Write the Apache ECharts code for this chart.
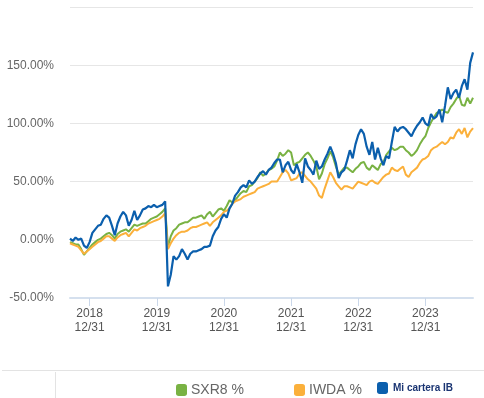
<!DOCTYPE html>
<html>
<head>
<meta charset="utf-8">
<script src="https://cdn.jsdelivr.net/npm/echarts@6/dist/echarts.min.js"></script>
<style>
  html, body { margin: 0; padding: 0; background: #fff; }
  #chart { width: 484px; height: 398px; }
</style>
</head>
<body>
<div id="chart"></div>
<script>
// semi-monthly dates, 2018/09/15 .. 2024/09/15 (15th and month end)
const DATES = [];
for (let y = 2018; y <= 2024; y++) {
  for (let m = 1; m <= 12; m++) {
    const last = new Date(y, m, 0).getDate();
    const mm = String(m).padStart(2, '0');
    [15, last].forEach(function (d) {
      const s = y + '/' + mm + '/' + String(d).padStart(2, '0');
      if (s >= '2018/09/15' && s <= '2024/09/15') DATES.push(s);
    });
  }
}

const SXR8 = [
  -2, -3, -4, -4, -8, -13, -10, -7, -4, -2,
  0, 1, 3, 5, 6, 4, 1, 5, 7, 8,
  9, 7, 10, 13, 12, 13, 14, 14, 16, 18,
  19, 20, 22, 24, 27, -6, 3, 8, 10, 13,
  14, 15, 15, 17, 19, 19, 20, 21, 18, 22,
  24, 20, 23, 26, 27, 25, 29, 34, 32, 34,
  37, 40, 42, 41, 46, 47, 50, 53, 58, 55,
  57, 60, 61, 63, 68, 75, 72, 74, 77, 75,
  64, 66, 67, 70, 73, 75, 72, 68, 63, 52,
  57, 65, 70, 76, 71, 63, 56, 59, 62, 62,
  60, 58, 61, 63, 66, 67, 62, 60, 64, 62,
  60, 65, 67, 73, 76, 79, 77, 78, 80, 80,
  77, 75, 72, 74, 77, 82, 86, 89, 96, 101,
  105, 109, 110, 112, 110, 109, 114, 117, 121, 124,
  116, 115, 122, 117, 122
];

const IWDA = [
  -3, -4, -5, -6, -9, -12, -10, -8, -6, -4,
  -2, -1, 1, 3, 3, 1, -1, 2, 4, 5,
  6, 3, 6, 9, 8, 10, 11, 12, 14, 15,
  16, 17, 18, 20, 23, -8, -3, 1, 4, 6,
  7, 7, 8, 10, 11, 11, 12, 13, 14, 15,
  12, 15, 17, 19, 21, 24, 25, 27, 31, 33,
  34, 35, 37, 38, 39, 40, 41, 44, 45, 46,
  47, 48, 50, 50, 50, 54, 58, 60, 57, 51,
  52, 53, 57, 58, 55, 52, 50, 47, 44, 38,
  36, 44, 51, 58, 54, 49, 46, 43, 46, 46,
  45, 44, 47, 50, 49, 48, 47, 50, 51, 49,
  48, 51, 54, 56, 57, 62, 60, 59, 61, 63,
  56, 54, 58, 60, 62, 66, 69, 70, 72, 77,
  79, 80, 82, 84, 82, 84, 88, 87, 92, 95,
  91, 96, 88, 93, 96
];

const CARTERA = [
  1, -1, 2, 0, 1, -5, -7, -2, 6, 9,
  12, 13, 18, 21, 19, 12, 4, 14, 20, 24,
  21, 12, 17, 25, 17, 21, 26, 27, 29, 28,
  30, 28, 29, 30, 33, -40, -30, -14, -17, -14,
  -8, -12, -17, -12, -10, -10, -9, -8, -6, -6,
  -5, 3, 8, 11, 18, 22, 19, 27, 31, 38,
  41, 45, 47, 45, 51, 48, 50, 54, 57, 59,
  56, 60, 62, 66, 69, 69, 58, 64, 67, 60,
  57, 65, 58, 49, 70, 63, 60, 56, 68, 61,
  63, 69, 74, 80, 74, 66, 53, 58, 60, 68,
  77, 70, 82, 90, 95, 91, 80, 73, 84, 69,
  79, 70, 64, 72, 70, 84, 97, 93, 96, 97,
  95, 92, 89, 94, 98, 101, 105, 100, 98, 108,
  104, 106, 112, 101, 115, 131, 121, 126, 129, 122,
  132, 138, 129, 152, 161
];

const NAMES = ['SXR8 %', 'IWDA %', 'Mi cartera IB'];
const COLORS = ['#79b243', '#fbb03b', '#0b5fad'];

function isYearEnd(idx, val) {
  return String(val).slice(5) === '12/31';
}

const chart = echarts.init(document.getElementById('chart'));

chart.setOption({
  animation: false,
  textStyle: { fontFamily: 'Liberation Sans, Arial, sans-serif' },
  grid: { left: 70, right: 11, top: 7, bottom: 100 },
  legend: [
    {
      left: 171, top: 378, itemWidth: 11, itemHeight: 12,
      icon: 'roundRect',
      data: [NAMES[0]],
      textStyle: { color: '#666', fontSize: 14, padding: [0, 0, 0, -1] }
    },
    {
      left: 289, top: 378, itemWidth: 11, itemHeight: 12,
      icon: 'roundRect',
      data: [NAMES[1]],
      textStyle: { color: '#666', fontSize: 14, padding: [0, 0, 0, -1] }
    },
    {
      left: 372, top: 377, itemWidth: 11, itemHeight: 12,
      icon: 'roundRect',
      data: [NAMES[2]],
      textStyle: { color: '#1b3573', fontSize: 10, fontWeight: 'bold', padding: [0, 0, 0, 0] }
    }
  ],
  graphic: [
    { type: 'line', shape: { x1: 2, y1: 370.5, x2: 484, y2: 370.5 }, style: { stroke: '#e3e3e3', lineWidth: 1 } },
    { type: 'line', shape: { x1: 55.5, y1: 372, x2: 55.5, y2: 398 }, style: { stroke: '#e3e3e3', lineWidth: 1 } }
  ],
  xAxis: {
    type: 'category',
    data: DATES,
    boundaryGap: false,
    axisLine: { onZero: false, lineStyle: { color: '#d5e0ee', width: 2 } },
    axisTick: { interval: isYearEnd, length: 8, lineStyle: { color: '#cbd8ea' } },
    axisLabel: {
      interval: isYearEnd,
      color: '#555',
      fontSize: 12,
      lineHeight: 14,
      margin: 9,
      formatter: function (v) { return v.slice(0, 4) + '\n' + v.slice(5); }
    },
    splitLine: { show: false }
  },
  yAxis: {
    type: 'value',
    min: -50,
    max: 200,
    interval: 50,
    axisLine: { show: false },
    axisTick: { show: false },
    axisLabel: {
      color: '#666',
      fontSize: 12,
      margin: 16,
      formatter: function (v) { return v === 200 ? '' : v.toFixed(2) + '%'; }
    },
    splitLine: { lineStyle: { color: '#e6e6e6', width: 1 } }
  },
  series: [
    { name: NAMES[0], type: 'line', data: SXR8, color: COLORS[0], symbol: 'none', lineStyle: { width: 2 } },
    { name: NAMES[1], type: 'line', data: IWDA, color: COLORS[1], symbol: 'none', lineStyle: { width: 2 } },
    { name: NAMES[2], type: 'line', data: CARTERA, color: COLORS[2], symbol: 'none', lineStyle: { width: 2.2 } }
  ]
});
</script>
</body>
</html>
